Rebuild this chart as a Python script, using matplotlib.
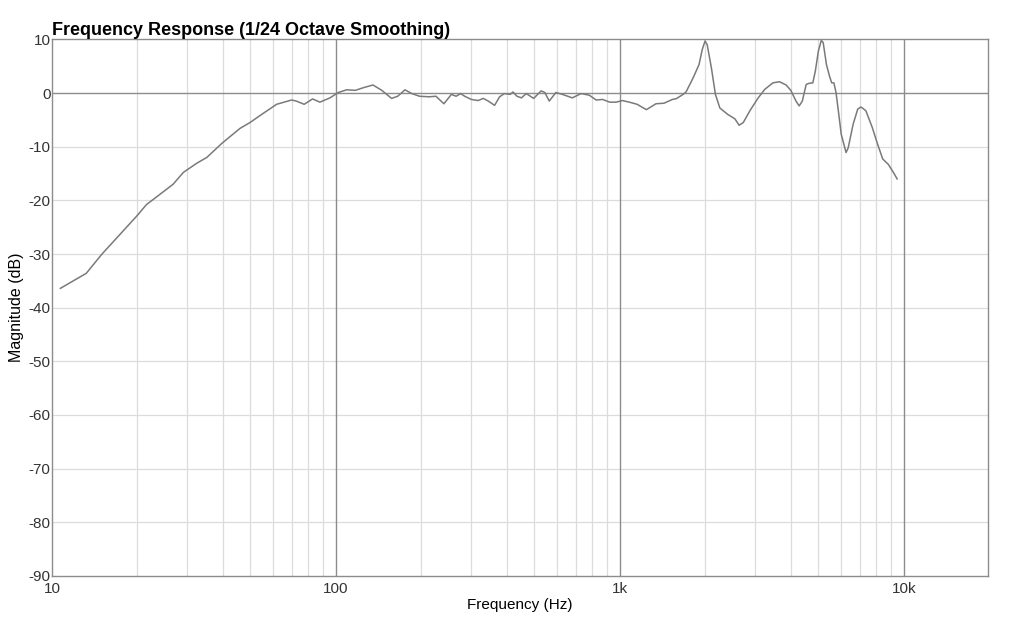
import numpy as np
import matplotlib
matplotlib.use('Agg')
import matplotlib.pyplot as plt
from matplotlib.ticker import FixedLocator, NullFormatter

# values
freq = [10.7, 13.2, 15.0, 19.9, 21.5, 26.7, 29.0, 32.3, 35.1, 39.6,
        45.9, 49.8, 54.7, 61.8, 69.8, 72.5, 77.3, 82.7, 87.8, 95.3,
        101.9, 109, 117, 125, 135, 145, 157, 165, 175, 185,
        197, 213, 225, 240, 255, 265, 275, 284, 300, 317,
        330, 344, 362, 377, 392, 411, 420, 434, 450, 468,
        497, 528, 544, 564, 595, 627, 680, 730, 780, 825,
        870, 920, 970, 1020, 1080, 1150, 1240, 1340, 1430, 1530,
        1580, 1670, 1710, 1810, 1900, 1950, 1995, 2030, 2100, 2170,
        2250, 2400, 2540, 2630, 2720, 2870, 3070, 3240, 3460, 3650,
        3850, 4000, 4170, 4280, 4390, 4530, 4630, 4780, 4880, 5000,
        5120, 5200, 5340, 5470, 5570, 5670, 5770, 5880, 6020, 6260,
        6370, 6630, 6880, 7060, 7150, 7350, 7740, 8080, 8430, 8820,
        9190, 9470]
mag = [-36.4, -33.6, -30.0, -22.9, -20.8, -17.0, -14.8, -13.1, -12.0, -9.4,
       -6.6, -5.5, -4.0, -2.1, -1.3, -1.5, -2.1, -1.1, -1.7, -0.9,
       0.1, 0.6, 0.5, 1.0, 1.5, 0.5, -1.0, -0.6, 0.6, -0.1,
       -0.6, -0.7, -0.6, -2.0, -0.25, -0.6, -0.1, -0.6, -1.2, -1.4,
       -1.0, -1.5, -2.3, -0.7, -0.1, -0.25, 0.2, -0.6, -0.9, -0.1,
       -1.0, 0.4, 0.1, -1.5, 0.1, -0.25, -0.9, -0.1, -0.4, -1.3,
       -1.2, -1.7, -1.7, -1.4, -1.7, -2.1, -3.1, -2.0, -1.9, -1.2,
       -1.05, -0.25, 0.2, 2.8, 5.3, 8.1, 9.7, 9.0, 4.7, -0.25,
       -2.8, -4.0, -4.8, -6.0, -5.5, -3.3, -0.9, 0.7, 1.9, 2.1,
       1.5, 0.5, -1.5, -2.4, -1.5, 1.6, 1.8, 1.9, 4.1, 7.8,
       9.8, 9.4, 5.3, 3.2, 1.9, 1.9, 0.1, -3.3, -7.7, -11.1,
       -10.2, -5.8, -3.0, -2.6, -2.8, -3.3, -6.4, -9.5, -12.3, -13.3,
       -14.8, -16.0]

major_freqs = [10, 100, 1000, 10000]
major_labels = ['10', '100', '1k', '10k']
minor_freqs = [m * d for d in (10, 100, 1000) for m in range(2, 10)]
db_ticks = list(range(-90, 11, 10))

plt.rcParams['font.family'] = ['Liberation Sans', 'DejaVu Sans']
plt.rcParams['axes.unicode_minus'] = False

fig = plt.figure(figsize=(10.24, 6.2), dpi=100)
ax = fig.add_axes([0.0508, 0.071, 0.9141, 0.8655])

ax.set_xscale('log')
ax.set_xlim(10, 19800)
ax.set_ylim(-90, 10)

# grid drawn by hand so that it stops at 10k like the reference
for f in minor_freqs:
    ax.axvline(f, color='#dcdcdc', lw=0.9, zorder=0)
for f in major_freqs[1:]:
    ax.axvline(f, color='#8c8c8c', lw=1.0, zorder=1)
for d in db_ticks:
    if d == 0:
        ax.axhline(d, color='#8c8c8c', lw=1.0, zorder=1)
    elif -90 < d < 10:
        ax.axhline(d, color='#dcdcdc', lw=0.9, zorder=0)

ax.plot(freq, mag, color='#7a7a7a', lw=1.1, zorder=3)

ax.xaxis.set_major_locator(FixedLocator(major_freqs))
ax.set_xticklabels(major_labels)
ax.xaxis.set_minor_locator(FixedLocator(minor_freqs))
ax.xaxis.set_minor_formatter(NullFormatter())
ax.set_yticks(db_ticks)
ax.tick_params(which='both', length=0, labelsize=11, colors='#333333')
ax.tick_params(axis='y', pad=1)
ax.tick_params(axis='x', pad=4)

for sp in ax.spines.values():
    sp.set_color('#8c8c8c')
    sp.set_linewidth(1.0)

ax.set_xlabel('Frequency (Hz)', fontsize=11, labelpad=2)
ax.set_ylabel('Magnitude (dB)', fontsize=11.5, labelpad=3)
ax.set_title('Frequency Response (1/24 Octave Smoothing)', loc='left',
             fontsize=13, fontweight='bold', pad=1)

fig.savefig('out.png', dpi=100)
